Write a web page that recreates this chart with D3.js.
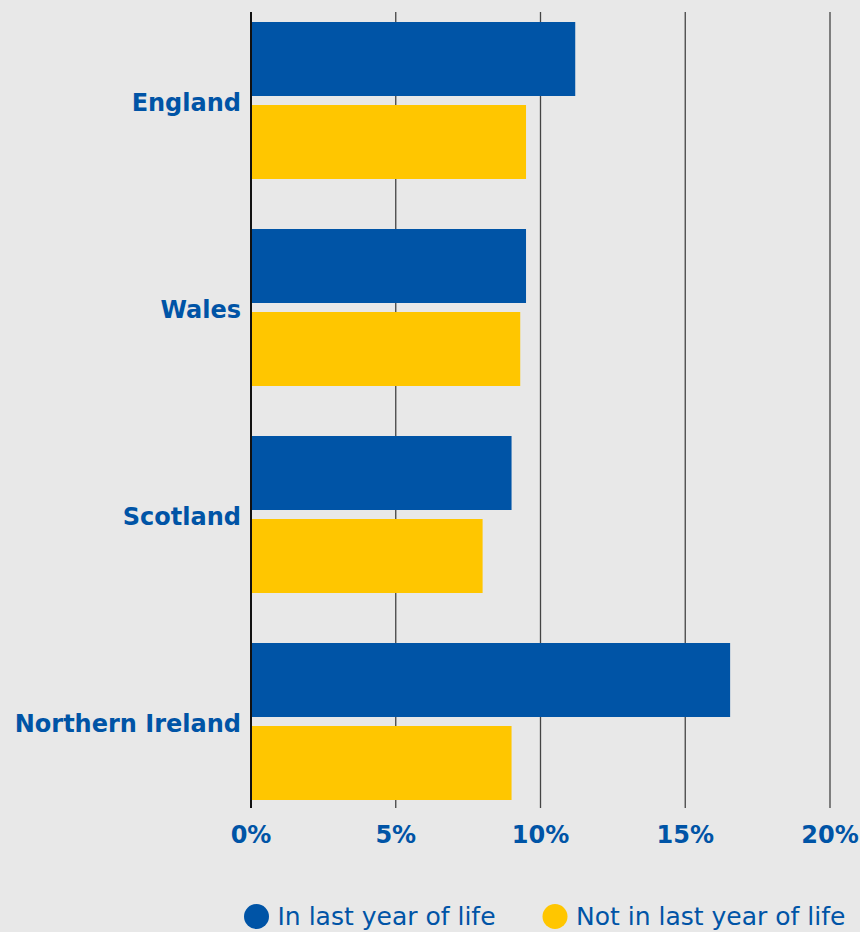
<!DOCTYPE html>
<html><head><meta charset="utf-8">
<script src="https://cdn.jsdelivr.net/npm/d3@7"></script>
<style>body{margin:0;background:#e8e8e8;}svg{display:block;font-family:"DejaVu Sans","Noto Sans",sans-serif;}</style>
</head><body>
<svg id="c" width="860" height="932"></svg>
<script>
const categories = ["England","Wales","Scotland","Northern Ireland"];
const seriesNames = ["In last year of life","Not in last year of life"];
const inLastYear = [11.2, 9.5, 9.0, 16.55];
const notInLastYear = [9.5, 9.3, 8.0, 9.0];
const tickValues = [0,5,10,15,20];
const colors = ["#0054A6","#FFC600"];

const svg = d3.select("#c");
svg.append("rect").attr("width",860).attr("height",932).attr("fill","#e8e8e8");
const m = {l:251, r:830, t:12, b:808};
const x = d3.scaleLinear().domain([0,20]).range([m.l, m.r]);
const y = d3.scaleBand().domain(categories).range([22, 800]).paddingInner(50/207).paddingOuter(0);
const y1 = d3.scaleBand().domain(seriesNames).range([0, y.bandwidth()]).paddingInner(9/83).paddingOuter(0);

// gridlines
svg.append("g").selectAll("line").data(tickValues.slice(1)).join("line")
  .attr("x1",d=>x(d)).attr("x2",d=>x(d)).attr("y1",m.t).attr("y2",m.b)
  .attr("stroke","#444").attr("stroke-width",1.3);

const data = categories.map((c,i)=>({c, vals:[inLastYear[i], notInLastYear[i]]}));
const g = svg.append("g");
data.forEach(d=>{
  d.vals.forEach((v,j)=>{
    g.append("rect").attr("x",x(0)).attr("y",y(d.c)+y1(seriesNames[j]))
      .attr("width",x(v)-x(0)).attr("height",y1.bandwidth()).attr("fill",colors[j]);
  });
});

// zero axis
svg.append("line").attr("x1",x(0)).attr("x2",x(0)).attr("y1",m.t).attr("y2",m.b)
  .attr("stroke","#111").attr("stroke-width",2);

// category labels
svg.append("g").selectAll("text").data(categories).join("text")
  .attr("x",m.l-10).attr("y",d=>y(d)+y.bandwidth()/2+10)
  .attr("text-anchor","end").attr("fill","#0054A6").attr("font-weight","bold").attr("font-size",24)
  .text(d=>d);

// x tick labels
svg.append("g").selectAll("text").data(tickValues).join("text")
  .attr("x",d=>x(d)).attr("y",843).attr("text-anchor","middle")
  .attr("fill","#0054A6").attr("font-weight","bold").attr("font-size",24)
  .text(d=>d+"%");

// legend
const leg = svg.append("g");
const items = [{n:seriesNames[0],c:colors[0],x:256.5},{n:seriesNames[1],c:colors[1],x:555}];
items.forEach(it=>{
  leg.append("circle").attr("cx",it.x).attr("cy",916.5).attr("r",12.5).attr("fill",it.c);
  leg.append("text").attr("x",it.x+21).attr("y",925)
    .attr("fill","#0054A6").attr("font-size",25).text(it.n);
});
</script>
</body></html>
